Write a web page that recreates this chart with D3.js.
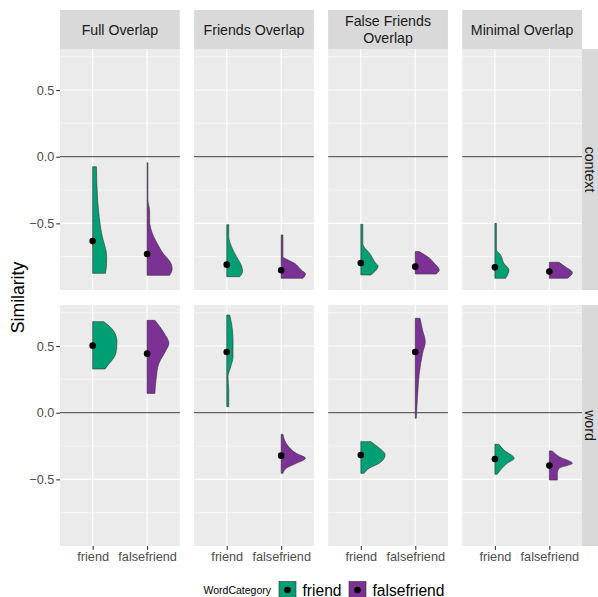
<!DOCTYPE html>
<html>
<head>
<meta charset="utf-8">
<script src="https://cdn.jsdelivr.net/npm/d3@7"></script>
<style>
  body { margin: 0; background: #fff; }
  svg text { font-family: "Liberation Sans", Arial, sans-serif; }
</style>
</head>
<body>
<div id="chart"></div>
<script>
// facets and categories
const overlaps = ["Full Overlap", "Friends Overlap", "False Friends\nOverlap", "Minimal Overlap"];
const contexts = ["context", "word"];
const categories = ["friend", "falsefriend"];
const yTicks = [-0.5, 0, 0.5];
const yMinor = [-0.75, -0.25, 0.25, 0.75];

// mean similarity per overlap: [friend, falsefriend]
const meansContext = [[-0.633, -0.73], [-0.81, -0.852], [-0.797, -0.825], [-0.83, -0.862]];
const meansWord = [[0.503, 0.443], [0.455, -0.322], [-0.317, 0.455], [-0.347, -0.397]];

// half violin profiles, [similarity, relative density]
const densityContext = [
  [
    [[-0.075, 0.15], [-0.33, 0.2], [-0.58, 0.36], [-0.75, 0.56], [-0.82, 0.55], [-0.875, 0.51]],
    [[-0.045, 0.03], [-0.32, 0.03], [-0.41, 0.1], [-0.48, 0.1], [-0.56, 0.18], [-0.65, 0.4], [-0.72, 0.62], [-0.8, 0.95], [-0.84, 1.0], [-0.89, 0.9]]
  ],
  [
    [[-0.51, 0.08], [-0.6, 0.08], [-0.675, 0.19], [-0.75, 0.39], [-0.82, 0.59], [-0.86, 0.63], [-0.9, 0.52]],
    [[-0.587, 0.07], [-0.75, 0.07], [-0.77, 0.22], [-0.8, 0.53], [-0.85, 0.8], [-0.88, 0.97], [-0.912, 0.87]]
  ],
  [
    [[-0.507, 0.08], [-0.65, 0.08], [-0.68, 0.14], [-0.72, 0.33], [-0.8, 0.6], [-0.82, 0.69], [-0.86, 0.57], [-0.887, 0.4]],
    [[-0.712, 0.16], [-0.76, 0.56], [-0.8, 0.76], [-0.85, 0.96], [-0.88, 0.83]]
  ],
  [
    [[-0.5, 0.06], [-0.7, 0.06], [-0.73, 0.2], [-0.8, 0.36], [-0.85, 0.56], [-0.912, 0.43]],
    [[-0.792, 0.39], [-0.82, 0.59], [-0.87, 0.92], [-0.912, 0.72]]
  ]
];
const densityWord = [
  [
    [[0.683, 0.44], [0.66, 0.6], [0.6, 0.88], [0.53, 0.97], [0.45, 0.93], [0.4, 0.8], [0.36, 0.62], [0.328, 0.5]],
    [[0.693, 0.31], [0.6, 0.67], [0.52, 0.87], [0.46, 0.73], [0.37, 0.47], [0.27, 0.37], [0.145, 0.31]]
  ],
  [
    [[0.733, 0.12], [0.67, 0.19], [0.545, 0.25], [0.42, 0.25], [0.345, 0.16], [0.27, 0.05], [0.17, 0.08], [0.045, 0.08]],
    [[-0.162, 0.07], [-0.23, 0.2], [-0.305, 0.6], [-0.342, 0.97], [-0.38, 0.6], [-0.417, 0.2], [-0.455, 0.07]]
  ],
  [
    [[-0.217, 0.4], [-0.255, 0.67], [-0.317, 0.97], [-0.38, 0.73], [-0.417, 0.33], [-0.455, 0.13]],
    [[0.708, 0.19], [0.62, 0.29], [0.532, 0.4], [0.445, 0.29], [0.295, 0.16], [0.12, 0.09], [-0.042, 0.04]]
  ],
  [
    [[-0.237, 0.16], [-0.28, 0.36], [-0.342, 0.77], [-0.38, 0.49], [-0.462, 0.09]],
    [[-0.287, 0.12], [-0.33, 0.39], [-0.38, 0.92], [-0.417, 0.39], [-0.455, 0.32], [-0.505, 0.32]]
  ]
];

const colors = ["#009E73", "#7B3294"];

const width = 598, height = 597;
const left = 60, right = 582, gap = 14.3;
const panelW = (right - left - 3 * gap) / 4;
const rowTop = [49, 305], panelH = 241;

const svg = d3.select("#chart").append("svg")
    .attr("width", width)
    .attr("height", height);

const yDomain = [-1.0, 0.808];
const color = d3.scaleOrdinal().domain(categories).range(colors);

contexts.forEach((ctx, r) => {
    const top = rowTop[r];
    const y = d3.scaleLinear().domain(yDomain).range([top + panelH, top]);
    const means = r === 0 ? meansContext : meansWord;
    const dens = r === 0 ? densityContext : densityWord;

    overlaps.forEach((ov, c) => {
        const px = left + c * (panelW + gap);
        const x = d3.scalePoint().domain(categories).range([px, px + panelW]).padding(0.6);
        const w = d3.scaleLinear().domain([0, 1]).range([0, x.step() * 0.46]);
        const g = svg.append("g");

        g.append("rect")
            .attr("x", px).attr("y", top)
            .attr("width", panelW).attr("height", panelH)
            .attr("fill", "#EBEBEB");

        // grid
        g.selectAll(".minor").data(yMinor).join("line")
            .attr("x1", px).attr("x2", px + panelW)
            .attr("y1", d => y(d)).attr("y2", d => y(d))
            .attr("stroke", "#fff").attr("stroke-width", 0.55);
        g.selectAll(".major").data(yTicks).join("line")
            .attr("x1", px).attr("x2", px + panelW)
            .attr("y1", d => y(d)).attr("y2", d => y(d))
            .attr("stroke", "#fff").attr("stroke-width", 1.1);
        g.selectAll(".vmajor").data(categories).join("line")
            .attr("x1", d => x(d)).attr("x2", d => x(d))
            .attr("y1", top).attr("y2", top + panelH)
            .attr("stroke", "#fff").attr("stroke-width", 1.1);

        // reference line at 0
        g.append("line")
            .attr("x1", px).attr("x2", px + panelW)
            .attr("y1", y(0)).attr("y2", y(0))
            .attr("stroke", "#3a3a3a").attr("stroke-width", 1);

        // half violins
        categories.forEach((cat, k) => {
            const cx = x(cat);
            const area = d3.area()
                .curve(d3.curveMonotoneY)
                .y(d => y(d[0]))
                .x0(cx)
                .x1(d => cx + w(d[1]));
            g.append("path")
                .datum(dens[c][k])
                .attr("d", area)
                .attr("fill", color(cat))
                .attr("stroke", "#333")
                .attr("stroke-width", 0.6);
            g.append("circle")
                .attr("cx", cx).attr("cy", y(means[c][k]))
                .attr("r", 3.3)
                .attr("fill", "#000");
        });

        // y axis on first column
        if (c === 0) {
            const ax = svg.append("g")
                .attr("transform", `translate(${px},0)`)
                .call(d3.axisLeft(y).tickValues(yTicks).tickSize(3.7).tickPadding(2)
                    .tickFormat(d => d3.format(".1f")(d).replace("-", "\u2212")));
            ax.select(".domain").remove();
            ax.selectAll(".tick line").attr("stroke", "#333").attr("stroke-width", 1.1);
            ax.selectAll(".tick text").attr("fill", "#4D4D4D").attr("font-size", 12.7)
                .attr("font-family", "Liberation Sans, Arial, sans-serif");
        }
        // x axis on bottom row
        if (r === 1) {
            const ax = svg.append("g")
                .attr("transform", `translate(0,${top + panelH})`)
                .call(d3.axisBottom(x).tickSize(3.7).tickPadding(2));
            ax.select(".domain").remove();
            ax.selectAll(".tick line").attr("stroke", "#333").attr("stroke-width", 1.1);
            ax.selectAll(".tick text").attr("fill", "#4D4D4D").attr("font-size", 12.7)
                .attr("font-family", "Liberation Sans, Arial, sans-serif");
        }
        // column strips
        if (r === 0) {
            svg.append("rect")
                .attr("x", px).attr("y", 10)
                .attr("width", panelW).attr("height", top - 10)
                .attr("fill", "#D9D9D9");
            const lines = ov.split("\n");
            const t = svg.append("text")
                .attr("x", px + panelW / 2)
                .attr("y", 29.5 - (lines.length - 1) * 8.3)
                .attr("text-anchor", "middle")
                .attr("dominant-baseline", "central")
                .attr("fill", "#1A1A1A")
                .attr("font-size", 14.2);
            lines.forEach((l, i) => {
                t.append("tspan").attr("x", px + panelW / 2).attr("dy", i === 0 ? 0 : 16.6).text(l);
            });
        }
    });

    // row strip
    svg.append("rect")
        .attr("x", right).attr("y", top)
        .attr("width", width - right).attr("height", panelH)
        .attr("fill", "#D9D9D9");
    svg.append("text")
        .attr("transform", `translate(${right + 8},${top + panelH / 2}) rotate(90)`)
        .attr("text-anchor", "middle")
        .attr("dominant-baseline", "central")
        .attr("fill", "#1A1A1A")
        .attr("font-size", 14.2)
        .text(ctx);
});

// y axis title
svg.append("text")
    .attr("transform", `translate(18,${(49 + 546) / 2}) rotate(-90)`)
    .attr("text-anchor", "middle")
    .attr("dominant-baseline", "central")
    .attr("font-size", 17.6)
    .attr("fill", "#000")
    .text("Similarity");

// legend
const legend = svg.append("g");
legend.append("text")
    .attr("x", 271).attr("y", 590)
    .attr("text-anchor", "end")
    .attr("dominant-baseline", "central")
    .attr("font-size", 10.5)
    .text("WordCategory");
const legX = [279, 349];
categories.forEach((cat, k) => {
    legend.append("rect")
        .attr("x", legX[k]).attr("y", 581.5)
        .attr("width", 17).attr("height", 17)
        .attr("fill", color(cat))
        .attr("stroke", "#333").attr("stroke-width", 0.6);
    legend.append("circle")
        .attr("cx", legX[k] + 8.5).attr("cy", 590)
        .attr("r", 3.3).attr("fill", "#000");
    legend.append("text")
        .attr("x", legX[k] + 23.5).attr("y", 590)
        .attr("dominant-baseline", "central")
        .attr("font-size", 15.6)
        .text(cat);
});
</script>
</body>
</html>
